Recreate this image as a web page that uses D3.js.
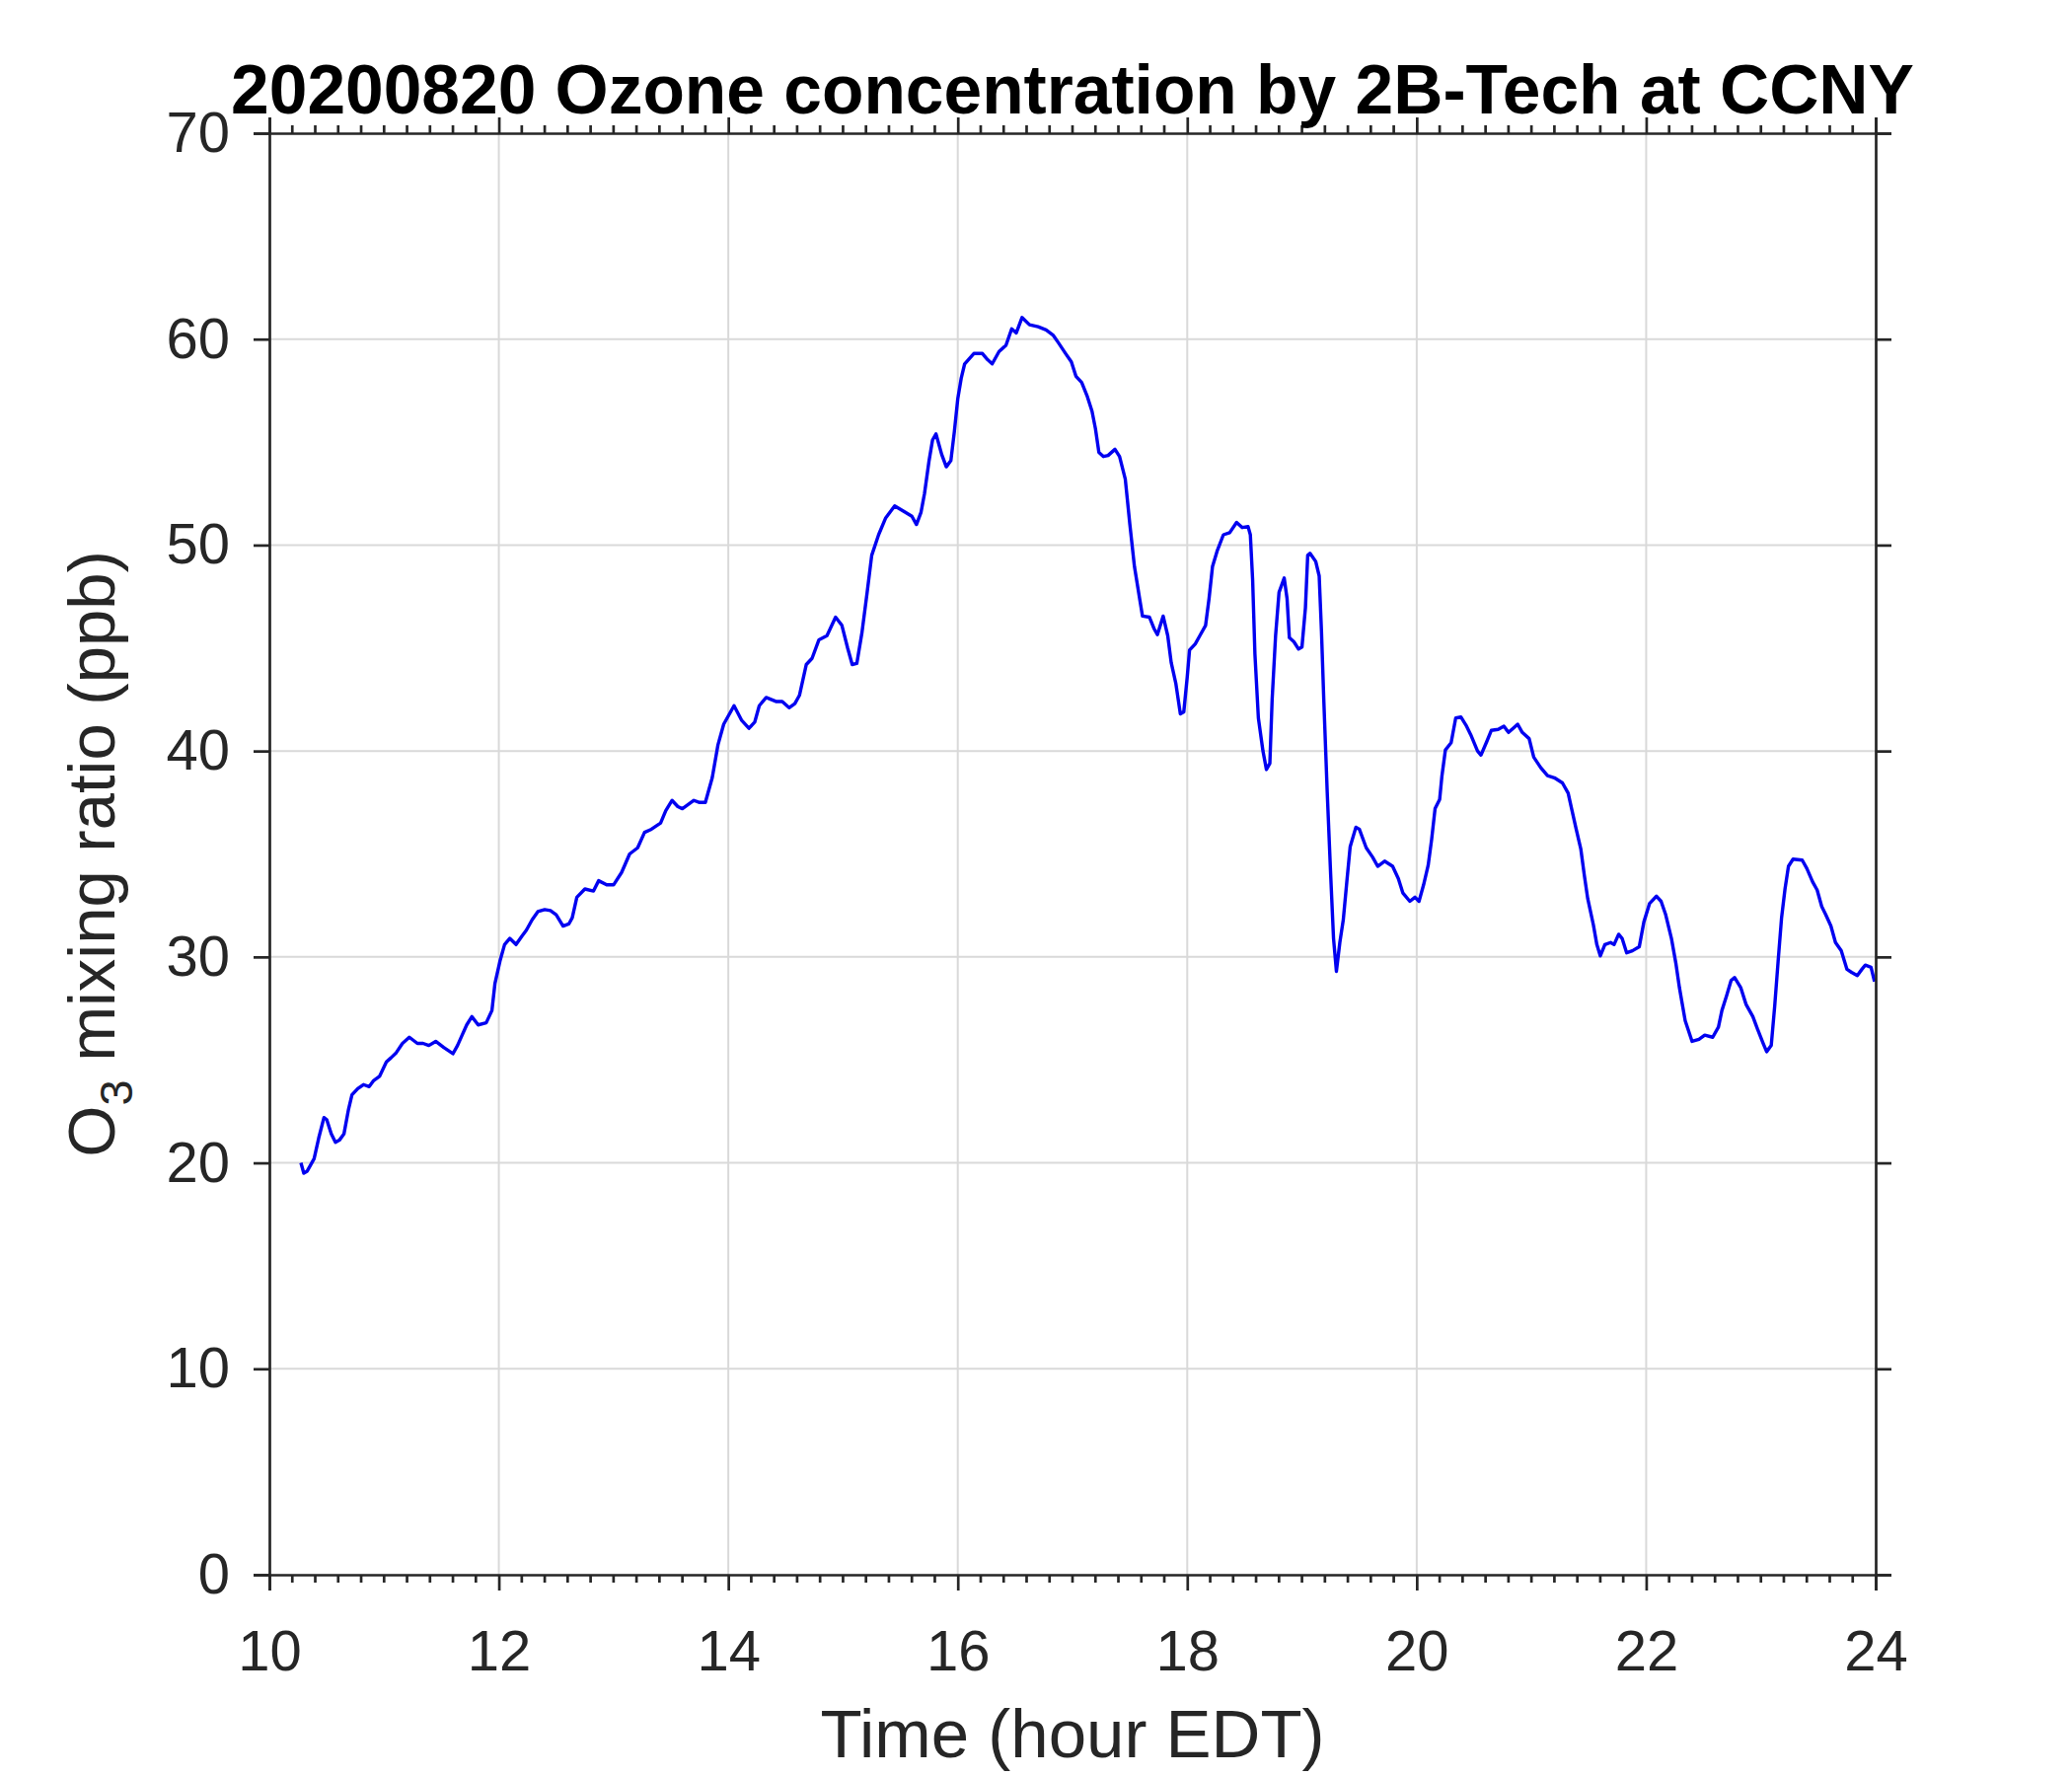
<!DOCTYPE html>
<html><head><meta charset="utf-8">
<script src="https://cdn.jsdelivr.net/npm/d3@7"></script>
<style>
html,body{margin:0;padding:0;background:#fff;}
svg{display:block;font-family:"Liberation Sans",Arial,sans-serif;}
</style></head>
<body><svg id="chart" width="2100" height="1800"></svg>
<script>
const titleText = "20200820 Ozone concentration by 2B-Tech at CCNY";
const xLabel = "Time (hour EDT)";
const xTicks = [10,12,14,16,18,20,22,24];
const yTicks = [0,10,20,30,40,50,60,70];
const hours = [10.275,10.30,10.33,10.39,10.43,10.476,10.50,10.54,10.576,10.61,10.65,10.69,10.72,10.77,10.82,10.87,10.91,10.96,11.02,11.06,11.106,11.16,11.22,11.29,11.34,11.39,11.45,11.52,11.60,11.64,11.68,11.72,11.765,11.82,11.89,11.94,11.966,12.01,12.05,12.095,12.15,12.20,12.24,12.29,12.34,12.40,12.45,12.50,12.56,12.61,12.64,12.68,12.75,12.825,12.87,12.94,13.00,13.07,13.14,13.21,13.27,13.33,13.41,13.455,13.51,13.56,13.60,13.65,13.70,13.75,13.80,13.86,13.91,13.96,14.05,14.115,14.18,14.23,14.27,14.33,14.42,14.47,14.53,14.58,14.62,14.68,14.73,14.79,14.86,14.935,14.99,15.04,15.08,15.12,15.165,15.21,15.25,15.31,15.37,15.45,15.54,15.60,15.64,15.68,15.71,15.75,15.78,15.81,15.86,15.90,15.94,15.97,16.00,16.03,16.06,16.14,16.215,16.26,16.30,16.36,16.42,16.47,16.51,16.56,16.625,16.70,16.77,16.83,16.88,16.94,16.99,17.03,17.08,17.13,17.17,17.20,17.23,17.27,17.31,17.37,17.41,17.46,17.50,17.54,17.585,17.61,17.67,17.71,17.74,17.79,17.83,17.86,17.90,17.94,17.97,18.00,18.02,18.07,18.11,18.16,18.19,18.22,18.26,18.315,18.37,18.43,18.48,18.53,18.55,18.57,18.59,18.62,18.66,18.69,18.72,18.74,18.77,18.80,18.845,18.87,18.89,18.93,18.97,19.00,19.03,19.05,19.07,19.12,19.15,19.17,19.19,19.22,19.25,19.275,19.30,19.33,19.36,19.39,19.42,19.47,19.50,19.56,19.615,19.66,19.72,19.79,19.84,19.88,19.94,19.985,20.02,20.06,20.10,20.13,20.16,20.20,20.22,20.25,20.30,20.34,20.385,20.43,20.47,20.53,20.56,20.61,20.65,20.71,20.76,20.80,20.84,20.88,20.92,20.98,21.02,21.08,21.14,21.20,21.27,21.32,21.35,21.39,21.43,21.46,21.49,21.54,21.57,21.60,21.64,21.69,21.72,21.76,21.79,21.83,21.88,21.94,21.98,22.03,22.09,22.13,22.17,22.22,22.26,22.29,22.34,22.40,22.46,22.51,22.58,22.63,22.66,22.70,22.74,22.77,22.825,22.87,22.93,22.97,23.02,23.05,23.09,23.12,23.15,23.18,23.21,23.24,23.28,23.36,23.40,23.45,23.49,23.53,23.565,23.61,23.65,23.70,23.75,23.79,23.84,23.88,23.91,23.96,23.99];
const ozone = [20.0,19.5,19.6,20.2,21.2,22.2,22.1,21.4,21.0,21.1,21.4,22.6,23.3,23.6,23.8,23.7,24.0,24.2,24.9,25.1,25.35,25.8,26.1,25.8,25.8,25.7,25.9,25.6,25.3,25.7,26.2,26.7,27.1,26.7,26.8,27.4,28.7,29.8,30.6,30.9,30.6,31.0,31.3,31.8,32.2,32.3,32.25,32.05,31.5,31.6,31.9,32.9,33.3,33.2,33.7,33.5,33.5,34.1,35.0,35.3,36.05,36.2,36.5,37.1,37.6,37.3,37.2,37.4,37.6,37.5,37.5,38.7,40.3,41.3,42.2,41.5,41.1,41.4,42.2,42.6,42.4,42.4,42.1,42.3,42.7,44.2,44.5,45.4,45.6,46.5,46.1,45.0,44.2,44.25,45.75,47.7,49.5,50.5,51.3,51.9,51.6,51.4,51.0,51.6,52.5,54.1,55.1,55.4,54.4,53.8,54.1,55.5,57.1,58.1,58.8,59.3,59.3,59.0,58.8,59.4,59.7,60.5,60.3,61.05,60.7,60.6,60.45,60.2,59.8,59.3,58.9,58.2,57.9,57.2,56.5,55.65,54.5,54.3,54.35,54.65,54.3,53.2,51.0,48.95,47.4,46.55,46.5,45.95,45.65,46.55,45.6,44.3,43.3,41.8,41.9,43.6,44.9,45.2,45.6,46.1,47.4,48.95,49.7,50.5,50.6,51.1,50.85,50.9,50.5,48.3,44.7,41.6,40.0,39.1,39.4,42.5,45.6,47.7,48.4,47.4,45.5,45.3,44.95,45.05,46.95,49.5,49.6,49.2,48.5,45.8,42.5,38.0,34.0,30.9,29.3,30.7,31.8,33.6,35.35,36.3,36.2,35.3,34.85,34.4,34.65,34.4,33.8,33.1,32.7,32.9,32.7,33.5,34.45,35.7,37.2,37.65,38.8,40.05,40.4,41.6,41.65,41.25,40.8,40.0,39.8,40.45,41.0,41.05,41.2,40.9,41.1,41.3,40.9,40.6,39.7,39.2,38.8,38.7,38.45,37.95,37.2,36.2,35.25,34.0,32.85,31.55,30.6,30.05,30.6,30.7,30.6,31.1,30.9,30.2,30.3,30.5,31.7,32.6,32.95,32.7,32.05,30.9,29.65,28.5,26.9,25.9,26.0,26.2,26.1,26.6,27.4,28.1,28.85,29.0,28.5,27.7,27.1,26.5,25.8,25.4,25.7,27.6,29.8,31.9,33.3,34.4,34.75,34.7,34.3,33.65,33.25,32.45,32.05,31.5,30.7,30.3,29.4,29.25,29.1,29.4,29.6,29.5,28.8];

const L = 273, T = 135, W = 1628, H = 1461;
const axisColor = "#262626";
const svg = d3.select("#chart");
const g = svg.append("g").attr("transform", `translate(${L},${T})`);
const x = d3.scaleLinear().domain([10,24]).range([0,W]);
const y = d3.scaleLinear().domain([0,70]).range([H,0]);
const minorX = d3.range(10,24.0001,0.2).map(v=>Math.round(v*10)/10);

// grid
g.append("g").selectAll("line").data(xTicks.slice(1,-1)).join("line")
  .attr("x1",d=>x(d)).attr("x2",d=>x(d)).attr("y1",0).attr("y2",H)
  .attr("stroke","#d9d9d9").attr("stroke-width",2);
g.append("g").selectAll("line").data(yTicks.slice(1,-1)).join("line")
  .attr("y1",d=>y(d)).attr("y2",d=>y(d)).attr("x1",0).attr("x2",W)
  .attr("stroke","#d9d9d9").attr("stroke-width",2);

// data line
const line = d3.line().x((d,i)=>x(hours[i])).y(d=>y(d));
g.append("path").datum(ozone).attr("d",line).attr("fill","none")
  .attr("stroke","#0000f0").attr("stroke-width",3.4).attr("stroke-linejoin","round");

// axes
function styleAxis(sel){
  sel.selectAll(".domain").attr("stroke",axisColor).attr("stroke-width",2.7);
  sel.selectAll(".tick line").attr("stroke",axisColor).attr("stroke-width",2.7);
  sel.selectAll("text").attr("fill",axisColor).attr("font-size",58)
     .attr("font-family","'Liberation Sans',Arial,sans-serif");
}
const fmt = d3.format("d");
// bottom
const gb = g.append("g").attr("transform",`translate(0,${H})`)
  .call(d3.axisBottom(x).tickValues(xTicks).tickFormat(fmt).tickSizeOuter(0).tickSize(16).tickPadding(40));
styleAxis(gb);
gb.append("g").selectAll("line").data(minorX.filter(v=>!xTicks.includes(v))).join("line")
  .attr("x1",d=>x(d)).attr("x2",d=>x(d)).attr("y1",0).attr("y2",8)
  .attr("stroke",axisColor).attr("stroke-width",2.7);
// top
const gt = g.append("g")
  .call(d3.axisTop(x).tickValues(xTicks).tickFormat("").tickSizeOuter(0).tickSize(16));
styleAxis(gt);
gt.append("g").selectAll("line").data(minorX.filter(v=>!xTicks.includes(v))).join("line")
  .attr("x1",d=>x(d)).attr("x2",d=>x(d)).attr("y1",0).attr("y2",-8)
  .attr("stroke",axisColor).attr("stroke-width",2.7);
// left
const gl = g.append("g")
  .call(d3.axisLeft(y).tickValues(yTicks).tickFormat(fmt).tickSizeOuter(0).tickSize(16).tickPadding(24));
styleAxis(gl);
// right
const gr = g.append("g").attr("transform",`translate(${W},0)`)
  .call(d3.axisRight(y).tickValues(yTicks).tickFormat("").tickSizeOuter(0).tickSize(16));
styleAxis(gr);

// title
svg.append("text").attr("x",L+W/2).attr("y",115).attr("text-anchor","middle")
  .attr("font-size",69.5).attr("font-weight","bold").attr("fill","#000").text(titleText);
// x label
svg.append("text").attr("x",L+W/2).attr("y",1781).attr("text-anchor","middle")
  .attr("font-size",69).attr("fill",axisColor).text(xLabel);
// y label
const yl = svg.append("text").attr("transform",`translate(116,${T+H/2}) rotate(-90)`)
  .attr("text-anchor","middle").attr("font-size",67).attr("fill",axisColor);
yl.append("tspan").text("O");
yl.append("tspan").attr("font-size",47).attr("dy",18).text("3");
yl.append("tspan").attr("dy",-18).text(" mixing ratio (ppb)");
</script></body></html>
